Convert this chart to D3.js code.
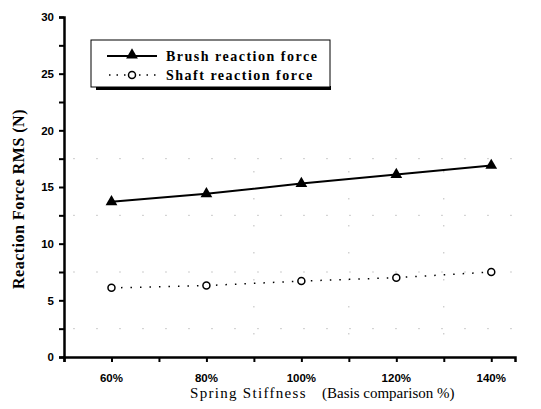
<!DOCTYPE html>
<html>
<head>
<meta charset="utf-8">
<script src="https://cdn.jsdelivr.net/npm/d3@7"></script>
<style>
  body { margin: 0; background: #fff; }
  svg { display: block; }
  .tick-lbl { font-family: "Liberation Sans", Arial, sans-serif; font-weight: bold; font-size: 11.5px; }
</style>
</head>
<body>
<div id="chart"></div>
<script>
const stiffness = [60, 80, 100, 120, 140];
const brushForce = [13.7, 14.4, 15.3, 16.1, 16.9];
const shaftForce = [6.1, 6.3, 6.7, 7.0, 7.5];
const yTicks = [0, 5, 10, 15, 20, 25, 30];
const xTickLabels = ["60%", "80%", "100%", "120%", "140%"];

const W = 541, H = 409;
const margin = { top: 17, right: 26, bottom: 52, left: 64 };
const serif = "'Liberation Serif', 'Times New Roman', serif";

const svg = d3.select("#chart").append("svg")
  .attr("width", W)
  .attr("height", H);

const x = d3.scaleLinear().domain([50, 145]).range([margin.left, W - margin.right]);
const y = d3.scaleLinear().domain([0, 30]).range([H - margin.bottom, margin.top]);

// faint dotted grid (scan-like)
const grid = svg.append("g").attr("stroke", "#999").attr("stroke-width", 1);
[2.5, 7.5, 12.5, 17.5].forEach(v => {
  grid.append("line")
    .attr("x1", x(52)).attr("x2", x(145))
    .attr("y1", y(v)).attr("y2", y(v))
    .attr("stroke-dasharray", "1,22");
});
[90, 110, 130].forEach(v => {
  grid.append("line")
    .attr("x1", x(v)).attr("x2", x(v))
    .attr("y1", y(2)).attr("y2", y(18))
    .attr("stroke-dasharray", "1,26");
});

// axes
const xAxis = svg.append("g")
  .attr("transform", `translate(0,${y(0)})`)
  .call(d3.axisBottom(x).tickValues(d3.range(50, 146, 10)).tickSize(5).tickFormat(""));
xAxis.select(".domain").attr("stroke-width", 2.5);
xAxis.selectAll(".tick line").attr("stroke-width", 2);

svg.selectAll(".xlbl")
  .data(stiffness)
  .join("text")
  .attr("class", "tick-lbl")
  .attr("x", d => x(d))
  .attr("y", y(0) + 25)
  .attr("text-anchor", "middle")
  .text((d, i) => xTickLabels[i]);

const yAxis = svg.append("g")
  .attr("transform", `translate(${x(50)},0)`)
  .call(d3.axisLeft(y).tickValues(d3.range(0, 30.1, 2.5)).tickSize(5)
    .tickFormat(d => yTicks.includes(d) ? d : ""));
yAxis.select(".domain").attr("stroke-width", 2.5);
yAxis.selectAll(".tick line").attr("stroke-width", 2);
yAxis.selectAll(".tick text")
  .attr("class", "tick-lbl")
  .attr("fill", "#000")
  .attr("x", -10);

// brush line
const line = d3.line().x((d, i) => x(stiffness[i])).y(d => y(d));
svg.append("path")
  .datum(brushForce)
  .attr("fill", "none")
  .attr("stroke", "#000")
  .attr("stroke-width", 2)
  .attr("d", line);

const tri = d3.symbol().type(d3.symbolTriangle).size(60);
svg.selectAll(".brush-pt")
  .data(brushForce)
  .join("path")
  .attr("transform", (d, i) => `translate(${x(stiffness[i])},${y(d)})`)
  .attr("d", tri)
  .attr("fill", "#000");

// shaft line
svg.append("path")
  .datum(shaftForce)
  .attr("fill", "none")
  .attr("stroke", "#000")
  .attr("stroke-width", 1.5)
  .attr("stroke-dasharray", "1.5,8")
  .attr("d", line);

svg.selectAll(".shaft-pt")
  .data(shaftForce)
  .join("circle")
  .attr("cx", (d, i) => x(stiffness[i]))
  .attr("cy", d => y(d))
  .attr("r", 3.5)
  .attr("fill", "#fff")
  .attr("stroke", "#000")
  .attr("stroke-width", 1.5);

// legend
const lg = svg.append("g");
lg.append("rect")
  .attr("x", 96).attr("y", 86).attr("width", 235).attr("height", 4)
  .attr("fill", "#000");
lg.append("rect")
  .attr("x", 91).attr("y", 40).attr("width", 239).attr("height", 47)
  .attr("fill", "#fff").attr("stroke", "#000").attr("stroke-width", 1);

lg.append("line")
  .attr("x1", 107).attr("x2", 157).attr("y1", 56).attr("y2", 56)
  .attr("stroke", "#000").attr("stroke-width", 2);
lg.append("path")
  .attr("transform", "translate(132,55)")
  .attr("d", tri)
  .attr("fill", "#000");
lg.append("line")
  .attr("x1", 109).attr("x2", 157).attr("y1", 75).attr("y2", 75)
  .attr("stroke", "#000").attr("stroke-width", 1.5).attr("stroke-dasharray", "1.5,6");
lg.append("circle")
  .attr("cx", 132).attr("cy", 75).attr("r", 3.5)
  .attr("fill", "#fff").attr("stroke", "#000").attr("stroke-width", 1.5);

lg.selectAll(".lgt")
  .data(["Brush reaction force", "Shaft reaction force"])
  .join("text")
  .attr("x", 166)
  .attr("y", (d, i) => 61 + i * 19)
  .attr("font-family", serif)
  .attr("font-weight", "bold")
  .attr("font-size", 14)
  .attr("letter-spacing", 1.5)
  .text(d => d);

// axis titles
svg.append("text")
  .attr("transform", `translate(24,${(y(0) + y(30)) / 2 + 12}) rotate(-90)`)
  .attr("text-anchor", "middle")
  .attr("font-family", serif)
  .attr("font-weight", "bold")
  .attr("font-size", 16)
  .attr("letter-spacing", 0.5)
  .text("Reaction Force RMS (N)");

const xt = svg.append("text")
  .attr("x", 190)
  .attr("y", 398)
  .attr("font-family", serif)
  .attr("font-size", 15);
xt.append("tspan").attr("letter-spacing", 1.3).text("Spring Stiffness");
xt.append("tspan").attr("x", 322).text("(Basis comparison %)");
</script>
</body>
</html>
